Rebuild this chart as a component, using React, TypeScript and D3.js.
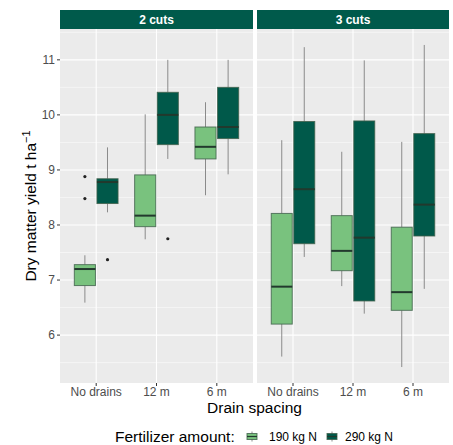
import React from 'react';
import * as d3 from 'd3';

// Facets, categories and groups
const cuts = ['2 cuts', '3 cuts'];
const spacings = ['No drains', '12 m', '6 m'];
const fertilizers = ['190 kg N', '290 kg N'];
const yTicks = [6, 7, 8, 9, 10, 11];

// [lower whisker, q1, median, q3, upper whisker] per spacing
const stats2cuts190 = [
  [6.59, 6.9, 7.2, 7.28, 7.45],
  [7.74, 7.97, 8.17, 8.91, 10.01],
  [8.54, 9.2, 9.42, 9.78, 10.23],
];
const stats2cuts290 = [
  [8.23, 8.39, 8.78, 8.84, 9.41],
  [9.2, 9.46, 10.0, 10.41, 11.0],
  [8.92, 9.57, 9.78, 10.5, 11.0],
];
const stats3cuts190 = [
  [5.61, 6.2, 6.88, 8.21, 9.54],
  [6.89, 7.17, 7.53, 8.17, 9.33],
  [5.42, 6.45, 6.78, 7.96, 9.51],
];
const stats3cuts290 = [
  [7.42, 7.66, 8.65, 9.88, 11.23],
  [6.39, 6.62, 7.77, 9.89, 10.99],
  [6.84, 7.8, 8.37, 9.66, 11.27],
];

// outliers per spacing
const outliers2cuts190 = [[8.88, 8.48], [], []];
const outliers2cuts290 = [[7.37], [7.75], []];
const outliers3cuts190 = [[], [], []];
const outliers3cuts290 = [[], [], []];

const fills = ['#79c27e', '#00594a'];
const font = "'Liberation Sans', Arial, sans-serif";

const W = 453;
const H = 445;
const panelTop = 29;
const panelBottom = 383;
const stripTop = 10;
const panels = [
  { x0: 60, x1: 253 },
  { x0: 257, x1: 449 },
];

const statsByCut = [
  [stats2cuts190, stats2cuts290],
  [stats3cuts190, stats3cuts290],
];
const outliersByCut = [
  [outliers2cuts190, outliers2cuts290],
  [outliers3cuts190, outliers3cuts290],
];

export default function App() {
  const y = d3.scaleLinear().domain([5.13, 11.56]).range([panelBottom, panelTop]);
  const minorTicks = d3.range(5.5, 11.6, 1);

  return (
    <svg
      width={W}
      height={H}
      style={{ position: 'absolute', left: 0, top: 0, background: '#fff' }}
      fontFamily={font}
    >
      {cuts.map((cut, ci) => {
        const { x0, x1 } = panels[ci];
        const x = d3.scalePoint().domain(spacings).range([x0, x1]).padding(0.6);
        const step = x.step();
        const boxW = step * 0.35;
        const offsets = [-step * 0.1875, step * 0.1875];
        return (
          <g key={cut}>
            <rect x={x0} y={panelTop} width={x1 - x0} height={panelBottom - panelTop} fill="#ebebeb" />
            {minorTicks.map((t) => (
              <line key={'mn' + t} x1={x0} x2={x1} y1={y(t)} y2={y(t)} stroke="#fff" strokeWidth={0.5} />
            ))}
            {yTicks.map((t) => (
              <line key={'mj' + t} x1={x0} x2={x1} y1={y(t)} y2={y(t)} stroke="#fff" strokeWidth={1.1} />
            ))}
            {spacings.map((s) => (
              <line key={'vx' + s} x1={x(s)} x2={x(s)} y1={panelTop} y2={panelBottom} stroke="#fff" strokeWidth={1.1} />
            ))}
            {/* strip */}
            <rect x={x0} y={stripTop} width={x1 - x0} height={panelTop - stripTop} fill="#005a4b" />
            <text
              x={(x0 + x1) / 2}
              y={(stripTop + panelTop) / 2}
              dy="0.36em"
              textAnchor="middle"
              fill="#fff"
              fontWeight="bold"
              fontSize={12}
            >
              {cut}
            </text>
            {/* boxes */}
            {spacings.map((s, si) =>
              fertilizers.map((f, fi) => {
                const [lo, q1, med, q3, hi] = statsByCut[ci][fi][si];
                const cx = (x(s) as number) + offsets[fi];
                return (
                  <g key={s + f}>
                    <line x1={cx} x2={cx} y1={y(hi)} y2={y(q3)} stroke="#8a8a8a" strokeWidth={1} />
                    <line x1={cx} x2={cx} y1={y(q1)} y2={y(lo)} stroke="#8a8a8a" strokeWidth={1} />
                    <rect
                      x={cx - boxW / 2}
                      y={y(q3)}
                      width={boxW}
                      height={y(q1) - y(q3)}
                      fill={fills[fi]}
                      stroke="#3e5f4a"
                      strokeOpacity={0.8}
                      strokeWidth={1}
                    />
                    <line
                      x1={cx - boxW / 2}
                      x2={cx + boxW / 2}
                      y1={y(med)}
                      y2={y(med)}
                      stroke="#22392d"
                      strokeWidth={2}
                    />
                    {outliersByCut[ci][fi][si].map((o, oi) => (
                      <circle key={oi} cx={cx} cy={y(o)} r={1.6} fill="#222" />
                    ))}
                  </g>
                );
              })
            )}
            {/* x axis */}
            {spacings.map((s) => (
              <g key={'xt' + s}>
                <line x1={x(s)} x2={x(s)} y1={panelBottom} y2={panelBottom + 3} stroke="#333" strokeWidth={1} />
                <text x={x(s)} y={panelBottom + 13} textAnchor="middle" fill="#4d4d4d" fontSize={12}>
                  {s}
                </text>
              </g>
            ))}
          </g>
        );
      })}

      {/* y axis */}
      {yTicks.map((t) => (
        <g key={'yt' + t}>
          <line x1={57} x2={60} y1={y(t)} y2={y(t)} stroke="#333" strokeWidth={1} />
          <text x={55} y={y(t)} dy="0.36em" textAnchor="end" fill="#4d4d4d" fontSize={12}>
            {t}
          </text>
        </g>
      ))}

      <text
        transform={`translate(36,${(panelTop + panelBottom) / 2}) rotate(-90)`}
        textAnchor="middle"
        fontSize={15.5}
        fill="#000"
      >
        Dry matter yield t ha
        <tspan fontSize={11} dy={-6}>
          −1
        </tspan>
      </text>

      <text x={(panels[0].x0 + panels[1].x1) / 2} y={413} textAnchor="middle" fontSize={15.5} fill="#000">
        Drain spacing
      </text>

      {/* legend */}
      <text x={115} y={442} fontSize={15.5} fill="#000">
        Fertilizer amount:
      </text>
      {fertilizers.map((f, fi) => {
        const kx = [247, 327][fi];
        const cx = kx + 5;
        return (
          <g key={'lg' + f}>
            <line x1={cx} x2={cx} y1={431.5} y2={441.5} stroke="#8a8a8a" strokeWidth={1} />
            <rect x={kx} y={433.5} width={10} height={6} fill={fills[fi]} stroke="#3e5f4a" strokeOpacity={0.8} />
            <line x1={kx} x2={kx + 10} y1={436.5} y2={436.5} stroke="#22392d" strokeWidth={1.2} />
            <text x={[269, 345][fi]} y={441} fontSize={12} fill="#000">
              {f}
            </text>
          </g>
        );
      })}
    </svg>
  );
}
